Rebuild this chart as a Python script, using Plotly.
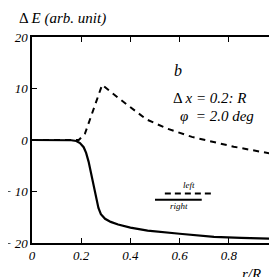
import plotly.graph_objects as go

# Data
r_right = [0.0, 0.10, 0.16, 0.18, 0.195, 0.21, 0.22, 0.23, 0.24, 0.25, 0.26, 0.27, 0.28, 0.297, 0.32, 0.35, 0.40, 0.47, 0.60, 0.74, 0.85, 1.0]
e_right = [0.0, 0.0, -0.05, -0.2, -0.6, -1.4, -2.5, -4.2, -6.4, -8.9, -11.3, -13.2, -14.4, -15.3, -15.9, -16.4, -17.0, -17.6, -18.2, -18.8, -19.0, -19.2]

r_left = [0.0, 0.10, 0.19, 0.215, 0.285, 0.35, 0.465, 0.55, 0.65, 0.82, 1.0]
e_left = [0.0, 0.0, 0.0, 1.2, 10.7, 8.2, 4.0, 2.2, 0.6, -1.3, -2.9]

x_ticks = [0, 0.2, 0.4, 0.6, 0.8, 1.0]
x_labels = ["0", "0.2", "0.4", "0.6", "0.8", "1"]
y_ticks = [-20, -10, 0, 10, 20]
y_labels = ["− 20", "− 10", "0", "10", "20"]

font_fam = "Times New Roman"
tfont = dict(family=font_fam, size=13, color="black")


def it(s):
    return "<i>" + s + "</i>"


fig = go.Figure()
fig.add_trace(go.Scatter(x=r_left, y=e_left, mode="lines",
                         line=dict(color="black", width=2, dash="6px,5px"), showlegend=False))
fig.add_trace(go.Scatter(x=r_right, y=e_right, mode="lines",
                         line=dict(color="black", width=2.2), showlegend=False))

axis_common = dict(showline=True, linecolor="black", linewidth=1.5, mirror="ticks",
                   ticks="inside", ticklen=5, tickwidth=1, tickcolor="black",
                   showgrid=False, zeroline=False, tickfont=tfont, automargin=False)
fig.update_xaxes(range=[0, 1], tickvals=x_ticks, ticktext=[it(s) for s in x_labels], **axis_common)
fig.update_yaxes(range=[-20, 20], tickvals=y_ticks, ticktext=[it(s) for s in y_labels],
                 **axis_common)

# legend samples
fig.add_shape(type="line", xref="x", yref="y", x0=0.54, x1=0.73, y0=-10.4, y1=-10.4,
              line=dict(color="black", width=2, dash="6px,4px"))
fig.add_shape(type="line", xref="x", yref="y", x0=0.50, x1=0.69, y0=-11.6, y1=-11.6,
              line=dict(color="black", width=2))

anns = [
    dict(text="Δ <i>E</i> <i>(arb. unit)</i>", x=9, y=10, size=15),
    dict(text="<i>b</i>", x=164, y=62, size=16),
    dict(text="Δ <i>x = 0.2: R</i>", x=163, y=90, size=15),
    dict(text="<i>φ  = 2.0 deg</i>", x=170, y=108, size=15),
    dict(text="<i>left</i>", x=173, y=177, size=9),
    dict(text="<i>right</i>", x=160, y=198, size=9),
    dict(text="<i>r/R</i>", x=232, y=266, size=15),
]
for a in anns:
    fig.add_annotation(text=a["text"], xref="paper", yref="paper",
                       x=(a["x"] - 24) / 246, y=1 - (a["y"] - 29) / 206,
                       xanchor="left", yanchor="middle", showarrow=False,
                       font=dict(family=font_fam, size=a["size"], color="black"))

fig.update_layout(width=277, height=277, margin=dict(l=24, r=7, t=29, b=42, autoexpand=False),
                  font=dict(family=font_fam, color="black"),
                  paper_bgcolor="white", plot_bgcolor="white")
fig.write_html("out.html")
